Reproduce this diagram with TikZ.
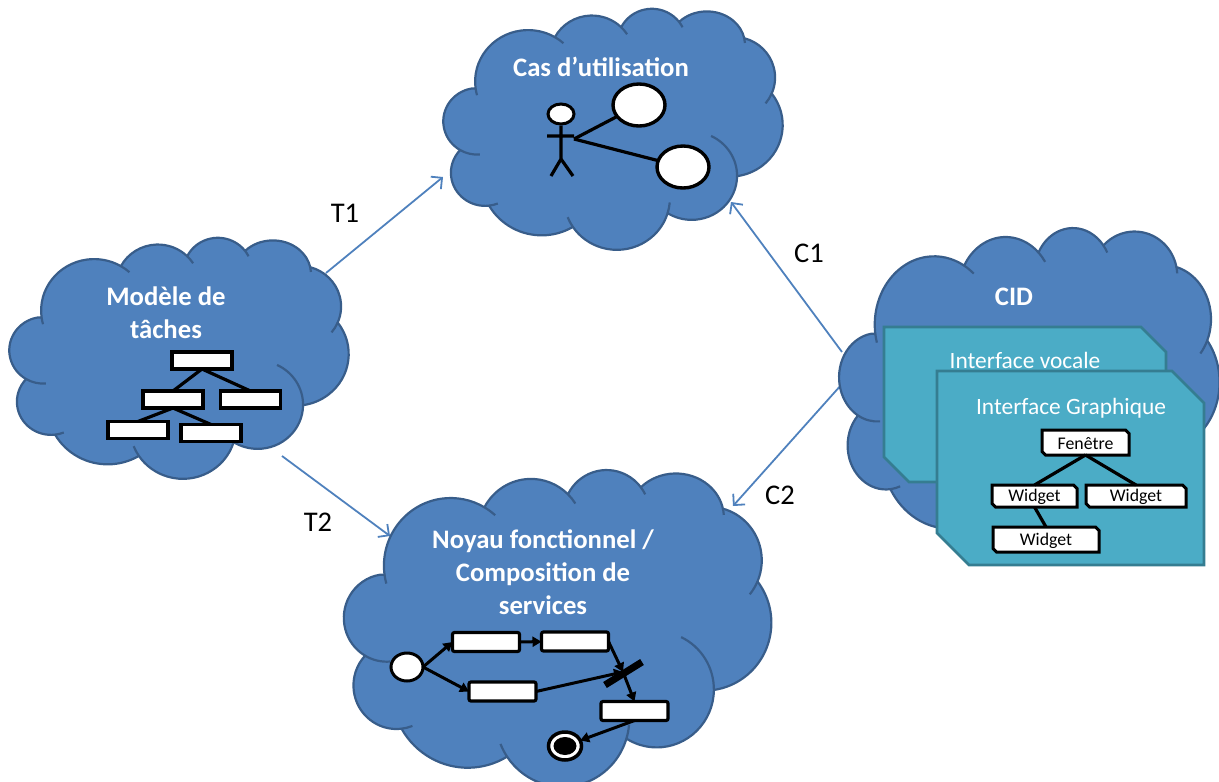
\documentclass[tikz,border=0pt]{standalone}
\usepackage{fontspec}
\setmainfont{Carlito}
\usetikzlibrary{arrows.meta,shapes.geometric}
% --- Office "cloud" outline, built once in units of 1/1000 of its box ---
\def\cpx{3.9}\def\cpy{14.37}
\gdef\cloudouter{}\gdef\cloudinner{}
\newcommand\cloudarc[6]{%
  \pgfmathsetmacro\ca{atan2(#1*sin(#3),#2*cos(#3))}%
  \pgfmathsetmacro\cb{atan2(#1*sin(#3+#4),#2*cos(#3+#4))}%
  \pgfmathsetmacro\cd{mod(\cb-\ca+720,360)}%
  \xdef\cloudouter{\cloudouter arc[x radius=#1,y radius=#2,start angle=\ca,delta angle=\cd]}%
  \pgfmathsetmacro\ccx{\cpx-#1*cos(\ca)}%
  \pgfmathsetmacro\ccy{\cpy-#2*sin(\ca)}%
  \ifdim #5pt>0pt
    \pgfmathsetmacro\ce{atan2(#1*sin(#3-#5),#2*cos(#3-#5))}%
    \pgfmathsetmacro\cf{mod(\ca-\ce+720,360)}%
    \pgfmathsetmacro\xs{\ccx+#1*cos(\ce)}%
    \pgfmathsetmacro\ys{\ccy+#2*sin(\ce)}%
    \xdef\cloudinner{\cloudinner (\xs,\ys) arc[x radius=#1,y radius=#2,start angle=\ce,delta angle=\cf]}%
  \fi
  \pgfmathsetmacro\xe{\ccx+#1*cos(\cb)}%
  \pgfmathsetmacro\ye{\ccy+#2*sin(\cb)}%
  \ifdim #6pt>0pt
    \pgfmathsetmacro\cg{atan2(#1*sin(#3+#4+#6),#2*cos(#3+#4+#6))}%
    \pgfmathsetmacro\ch{mod(\cg-\cb+720,360)}%
    \xdef\cloudinner{\cloudinner (\xe,\ye) arc[x radius=#1,y radius=#2,start angle=\cb,delta angle=\ch]}%
  \fi
  \xdef\cpx{\xe}\xdef\cpy{\ye}%
}
\cloudarc{6.753}{9.190}{-190.487}{123.780}{10}{10}
\cloudarc{5.333}{7.267}{-144.102}{89.945}{0}{13}
\cloudarc{4.365}{5.945}{-145.808}{99.723}{0}{12}
\cloudarc{4.857}{5.945}{-130.986}{117.242}{0}{10}
\cloudarc{5.333}{7.273}{-78.709}{109.027}{0}{18}
\cloudarc{6.775}{9.220}{-46.267}{130.269}{0}{0}
\cloudarc{5.785}{7.867}{0.625}{114.033}{71.5}{0}
\cloudarc{6.752}{9.215}{22.452}{115.173}{16}{14}
\cloudarc{7.720}{10.543}{66.243}{75.711}{0}{0}
\cloudarc{4.360}{5.918}{-274.942}{146.736}{11.4}{0}
\cloudarc{4.345}{5.945}{-246.829}{150.164}{26.4}{0}
\definecolor{cloudfill}{HTML}{4F81BD}
\definecolor{cloudline}{HTML}{385D8A}
\definecolor{cardfill}{HTML}{4BACC6}
\definecolor{cardline}{HTML}{357D91}
\newcommand\cloudat[4]{%
  \pgfmathsetmacro\cu{#3/43.2}\pgfmathsetmacro\cv{#4/43.2}%
  \begin{scope}[shift={(#1,#2)},x=\cu pt,y=-\cv pt]
    \draw[cloudshape] (3.9,14.37) \cloudouter -- cycle;
    \draw[cloudshape,fill=none] \cloudinner;
  \end{scope}}
% a rectangle with its top-right and bottom-left corners cut off
\newcommand\snipoutline[3]{%
  \path[#3] (#1.north west) -- ([xshift=-#2pt]#1.north east) -- ([yshift=-#2pt]#1.north east)
    -- (#1.south east) -- ([xshift=#2pt]#1.south west) -- ([yshift=#2pt]#1.south west) -- cycle;}
\tikzset{
  cloudshape/.style={draw=cloudline,fill=cloudfill,line width=2.2pt,line join=round},
  cloudtitle/.style={text=white,font=\bfseries\fontsize{26.7}{33}\selectfont,align=center,inner sep=0pt},
  cardtitle/.style={text=white,font=\fontsize{23.4}{26}\selectfont,inner sep=0pt},
  cardbase/.style={rectangle,inner sep=0pt,outer sep=0pt},
  cardpath/.style={draw=cardline,fill=cardfill,line width=2.6pt},
  widgetbase/.style={rectangle,inner sep=0pt,outer sep=0pt,font=\fontsize{17.8}{18}\selectfont},
  widgetpath/.style={draw=black,fill=white,line width=3pt},
  taskbox/.style={rectangle,draw=black,fill=white,line width=3.2pt,inner sep=0pt,outer sep=0pt},
  flowbox/.style={rectangle,rounded corners=2pt,draw=black,fill=white,line width=3.2pt,inner sep=0pt,outer sep=0pt,minimum width=67pt,minimum height=19pt},
  blackline/.style={draw=black,line width=3.2pt},
  flowarrow/.style={draw=black,line width=3pt,-{Triangle[length=9pt,width=10pt]}},
  linkarrow/.style={draw=cloudfill,line width=1.8pt,-{Straight Barb[length=8pt,width=16pt,line width=1.8pt]}},
  linklabel/.style={text=black,font=\fontsize{28.5}{30}\selectfont,inner sep=0pt},
  useoval/.style={ellipse,draw=black,fill=white,line width=3.4pt,inner sep=0pt,outer sep=0pt,minimum width=52pt,minimum height=42pt},
}
\begin{document}
\begin{tikzpicture}[x=1pt,y=-1pt]
\useasboundingbox (0,0) rectangle (1219,782);
% link end points
\coordinate (t1s) at (326,273);\coordinate (t1e) at (443,177);
\coordinate (t2s) at (282,456);\coordinate (t2e) at (390,536);
\coordinate (c1s) at (842,352);\coordinate (c1e) at (731,202);
\coordinate (c2s) at (842,384);\coordinate (c2e) at (733,506);
\draw[linkarrow] (t1s) -- (t1e);
\draw[linkarrow] (t2s) -- (t2e);
\draw[linkarrow] (c1s) -- (c1e);
\draw[linkarrow] (c2s) -- (c2e);
\node[linklabel] (lt1) at (345,213) {T1};
\node[linklabel] (lt2) at (318,522) {T2};
\node[linklabel] (lc1) at (809,253) {C1};
\node[linklabel] (lc2) at (780,495) {C2};
% clouds
\cloudat{445}{8}{339}{242}
\cloudat{11}{237}{339}{242}
\cloudat{346}{469}{427}{318}
\cloudat{841}{227}{380}{321}
% Cas d'utilisation
\node[cloudtitle] (ncas) at (601,67) {Cas d’utilisation};
\node[ellipse,draw=black,fill=white,line width=3pt,inner sep=0pt,minimum width=26pt,minimum height=20pt] (head) at (561,114) {};
\coordinate (hip) at (561,159);
\coordinate (armL) at (547,136);\coordinate (armR) at (574,136);
\coordinate (legL) at (551,176);\coordinate (legR) at (573,176);
\coordinate (hand) at (574,139);
\draw[blackline] (head.south) -- (hip) (armL) -- (armR) (legL) -- (hip) -- (legR);
\node[useoval] (uc1) at (639,105) {};
\node[useoval] (uc2) at (683,167) {};
\draw[blackline] (hand) -- (uc1);
\draw[blackline] (hand) -- (uc2);
% Modele de taches
\node[cloudtitle] (ntask) at (166,313) {Modèle de\\tâches};
\foreach \n/\x/\y in {tb1/202/360.5,tb2/173/399.5,tb3/250.5/399.5,tb4/138/430,tb5/211/433}
  \node[taskbox,minimum width=60pt,minimum height=17pt] (\n) at (\x,\y) {};
\draw[blackline] (tb1.south) -- (tb2.north);
\draw[blackline] (tb1.south) -- (tb3.north);
\draw[blackline] (tb2.south) -- (tb4.north);
\draw[blackline] (tb2.south) -- (tb5.north);
% Noyau
\node[cloudtitle] (nnoyau) at (543,572.5) {Noyau fonctionnel /\\Composition de\\services};
\node[ellipse,draw=black,fill=white,line width=3pt,inner sep=0pt,outer sep=0pt,minimum width=32pt,minimum height=28pt] (fstart) at (407,667) {};
\node[flowbox] (fa) at (486,642) {};
\node[flowbox] (fb) at (575,641.5) {};
\node[flowbox] (fc) at (502.5,691.5) {};
\node[flowbox] (fd) at (634.5,711) {};
\coordinate (barA) at (605,685);\coordinate (barB) at (642,662);
\coordinate (barC) at (623,672);
\draw[black,line width=7pt] (barA) -- (barB);
\draw[flowarrow] (fstart.east) -- (fa.west);
\draw[flowarrow] (fstart.east) -- (fc.west);
\draw[flowarrow] (fa) -- (fb);
\draw[flowarrow] (fb.east) -- (barC);
\draw[flowarrow] (fc.east) -- (barC);
\draw[flowarrow] (barC) -- (fd.north);
\node[ellipse,draw=black,fill=white,line width=3.5pt,inner sep=0pt,outer sep=0pt,minimum width=33pt,minimum height=28pt] (fend) at (565,746) {};
\node[ellipse,fill=black,inner sep=0pt,minimum width=23pt,minimum height=18pt] (fendin) at (565,746) {};
\draw[flowarrow] (fd.south) -- (fend);
% CID
\node[cloudtitle] (ncid) at (1014,297) {CID};
\node[cardbase,minimum width=282pt,minimum height=155pt] (cv) at (1025,404.5) {};
\snipoutline{cv}{25}{cardpath}
\node[cardtitle] (cvt) at (1025,360) {Interface vocale};
\node[cardbase,minimum width=267pt,minimum height=194pt] (cg) at (1070.5,468) {};
\snipoutline{cg}{32}{cardpath}
\node[cardtitle] (cgt) at (1071,408) {Interface Graphique};
\newcommand\widgetnode[6]{%
  \node[widgetbase,minimum width=#2pt,minimum height=#3pt] (#1) at (#4,#5) {};
  \snipoutline{#1}{3.5}{widgetpath}
  \node[widgetbase] (#1t) at ([yshift=-1pt]#1) {#6};}
\widgetnode{wf}{87}{25}{1085.5}{442.5}{Fenêtre}
\widgetnode{w1}{85}{22}{1034.5}{496}{Widget}
\widgetnode{w2}{100}{22}{1136}{496}{Widget}
\widgetnode{w3}{106}{25}{1046}{539.5}{Widget}
\draw[blackline] (wf.south) -- (w1.north);
\draw[blackline] (wf.south) -- (w2.north);
\draw[blackline] (w1.south) -- (w3.north);
\end{tikzpicture}
\end{document}
